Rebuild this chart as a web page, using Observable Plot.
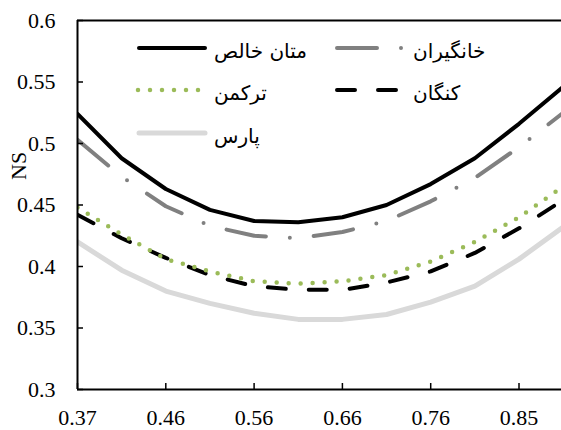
<!DOCTYPE html>
<html><head><meta charset="utf-8">
<script src="https://cdn.jsdelivr.net/npm/d3@7"></script>
<script src="https://cdn.jsdelivr.net/npm/@observablehq/plot@0.6"></script>
<style>
html,body{margin:0;padding:0;background:#fff;overflow:hidden}
svg text{font-family:"Liberation Serif","Times New Roman","DejaVu Serif",serif !important;}
svg text.fa{font-family:"DejaVu Sans",sans-serif !important;}
</style>
</head><body><div id="chart"></div>
<script>
const xValues = [0.37, 0.418, 0.466, 0.514, 0.562, 0.61, 0.658, 0.706, 0.754, 0.802, 0.85, 0.898];
const seriesNames = ["متان خالص", "خانگیران", "ترکمن", "کنگان", "پارس"];
const metan   = [0.524, 0.488, 0.463, 0.446, 0.437, 0.436, 0.440, 0.450, 0.467, 0.488, 0.516, 0.546];
const khangiran = [0.503, 0.473, 0.449, 0.433, 0.425, 0.423, 0.428, 0.437, 0.453, 0.472, 0.497, 0.525];
const torkaman = [0.448, 0.426, 0.406, 0.396, 0.388, 0.386, 0.388, 0.393, 0.404, 0.420, 0.440, 0.465];
const kangan  = [0.442, 0.423, 0.407, 0.393, 0.384, 0.381, 0.381, 0.387, 0.396, 0.411, 0.431, 0.454];
const pars    = [0.420, 0.397, 0.380, 0.370, 0.362, 0.357, 0.357, 0.361, 0.371, 0.384, 0.406, 0.432];
const xTickValues = [0.37, 0.466, 0.562, 0.658, 0.754, 0.85];
const xTickLabels = ["0.37", "0.46", "0.56", "0.66", "0.76", "0.85"];
const yTickValues = [0.3, 0.35, 0.4, 0.45, 0.5, 0.55, 0.6];
const yTickLabels = ["0.3", "0.35", "0.4", "0.45", "0.5", "0.55", "0.6"];
const yLabel = "NS";

const seriesValues = [metan, khangiran, torkaman, kangan, pars];
const styles = [
  {stroke: "#000000", strokeWidth: 4, dash: null},
  {stroke: "#808080", strokeWidth: 4, dash: "40,24,0,24"},
  {stroke: "#9bbb59", strokeWidth: 4.5, dash: "0,12"},
  {stroke: "#000000", strokeWidth: 4, dash: "18,23"},
  {stroke: "#d9d9d9", strokeWidth: 5, dash: null}
];
const serif = "Liberation Serif";

const data = seriesValues.map((vals, i) => vals.map((v, j) => ({x: xValues[j], y: v, s: seriesNames[i]})));

const lineMarks = [4, 3, 2, 1, 0].map(i => Plot.line(data[i], {
  x: "x", y: "y", stroke: styles[i].stroke, strokeWidth: styles[i].strokeWidth,
  strokeDasharray: styles[i].dash || undefined, strokeLinecap: "round", strokeLinejoin: "round",
  curve: "linear", clip: true
}));

const chart = Plot.plot({
  width: 561, height: 430,
  marginLeft: 77, marginRight: 0, marginTop: 20, marginBottom: 41,
  style: {fontSize: "22px", background: "#fff", color: "#000"},
  x: {domain: [0.37, 0.8962], axis: null},
  y: {domain: [0.3, 0.6], axis: null},
  marks: [
    ...lineMarks,
    Plot.axisY(yTickValues, {anchor: "left", tickSize: 0, tickPadding: 22, fontSize: 22, fontFamily: serif, label: null,
      tickFormat: d => yTickLabels[yTickValues.indexOf(d)]}),
    Plot.axisX(xTickValues, {anchor: "bottom", tickSize: 0, tickPadding: 20, fontSize: 22, fontFamily: serif, label: null,
      tickFormat: d => xTickLabels[xTickValues.indexOf(d)]}),
    Plot.axisY(yTickValues, {anchor: "left", tickSize: 6, dx: 6, text: null, label: null, stroke: "#000", strokeWidth: 1.5}),
    Plot.axisX(xTickValues, {anchor: "bottom", tickSize: 6, dy: -6, text: null, label: null, stroke: "#000", strokeWidth: 1.5}),
    Plot.ruleX([0.37], {stroke: "#000", strokeWidth: 2}),
    Plot.ruleY([0.3], {stroke: "#000", strokeWidth: 2}),
    Plot.ruleY([0.6], {stroke: "#000", strokeWidth: 2}),
    Plot.text([yLabel], {frameAnchor: "left", dx: -59, dy: -25, rotate: -90, fontSize: 22, fontFamily: serif, fill: "#000"})
  ]
});
document.getElementById("chart").appendChild(chart);

d3.select(chart).selectAll("text").attr("font-family", serif).style("font-family", serif);

const svg = d3.select(chart);
const legendPos = [
  {x1: 139, x2: 205, y: 48, tx: 214},
  {x1: 337, x2: 402, y: 48, tx: 413},
  {x1: 138, x2: 199, y: 90, tx: 214},
  {x1: 337, x2: 396, y: 90, tx: 413},
  {x1: 139, x2: 205, y: 133, tx: 214}
];
const lg = svg.append("g");
legendPos.forEach((p, i) => {
  const st = styles[i];
  lg.append("line").attr("x1", p.x1).attr("x2", p.x2).attr("y1", p.y).attr("y2", p.y)
    .attr("stroke", st.stroke).attr("stroke-width", st.strokeWidth)
    .attr("stroke-dasharray", st.dash).attr("stroke-linecap", "round");
  lg.append("text").attr("class", "fa").attr("x", p.tx).attr("y", p.y + 10)
    .attr("text-anchor", "start").attr("direction", "ltr")
    .style("font-family", "DejaVu Sans")
    .attr("font-size", 20).attr("fill", "#000").text(seriesNames[i]);
});
</script>
</body></html>
